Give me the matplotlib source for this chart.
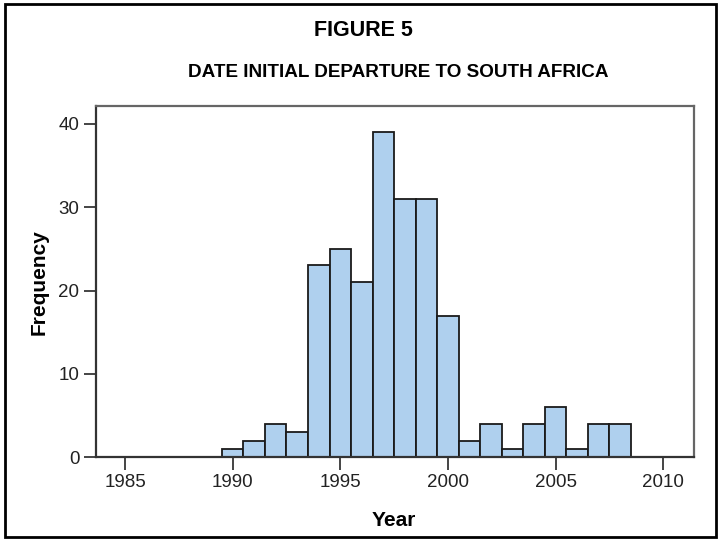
import matplotlib.pyplot as plt
from matplotlib.patches import Rectangle

# histogram counts (one bar per year)
years = [1990, 1991, 1992, 1993, 1994, 1995, 1996, 1997, 1998, 1999,
         2000, 2001, 2002, 2003, 2004, 2005, 2006, 2007, 2008]
counts = [1, 2, 4, 3, 23, 25, 21, 39, 31, 31,
          17, 2, 4, 1, 4, 6, 1, 4, 4]
x_ticks = [1985, 1990, 1995, 2000, 2005, 2010]
y_ticks = [0, 10, 20, 30, 40]

plt.rcParams['font.family'] = ['Liberation Sans', 'DejaVu Sans']

fig = plt.figure(figsize=(7.21, 5.40), dpi=100)
ax = fig.add_axes([0.1331, 0.1528, 0.8294, 0.6509])

ax.bar(years, counts, width=1.0, color='#afd0ee', edgecolor='#1a1a1a', linewidth=1.3)

ax.set_xlim(1983.65, 2011.43)
ax.set_ylim(0, 42.1)
ax.set_xticks(x_ticks)
ax.set_yticks(y_ticks)
ax.tick_params(direction='out', length=9, width=1.4, color='#444444',
               labelsize=13.5, labelcolor='#222222', pad=3)

for s in ax.spines.values():
    s.set_color('#666666')
    s.set_linewidth(1.6)
ax.spines['bottom'].set_color('#333333')
ax.spines['left'].set_color('#333333')

ax.set_xlabel('Year', fontsize=15, fontweight='bold', va='center')
ax.set_ylabel('Frequency', fontsize=15, fontweight='bold', va='center')
ax.xaxis.set_label_coords(0.498, -0.178)
ax.yaxis.set_label_coords(-0.095, 0.5)

fig.text(0.504, 0.944, 'FIGURE 5', ha='center', va='center', fontsize=15.5, fontweight='bold')
fig.text(0.5527, 0.866, 'DATE INITIAL DEPARTURE TO SOUTH AFRICA', ha='center', va='center',
         fontsize=13.6, fontweight='bold')

# outer border around the whole figure
fig.patches.append(Rectangle((0.007, 0.005), 0.986, 0.988, transform=fig.transFigure,
                             fill=False, edgecolor='black', linewidth=2))

fig.savefig('out.png', dpi=100)
